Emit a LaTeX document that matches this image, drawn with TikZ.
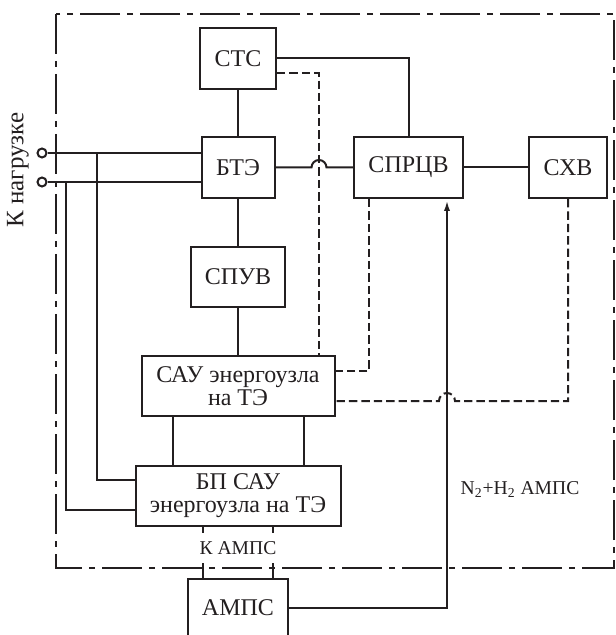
\documentclass[tikz,border=0pt]{standalone}
\usepackage{fontspec}
\setmainfont{Liberation Serif}
\definecolor{ink}{HTML}{231F20}
\usetikzlibrary{arrows.meta,calc}

\tikzset{
  blk/.style={draw=ink,line width=1pt,inner sep=0pt,align=center,text=ink,
    font=\fontsize{12}{11.5}\selectfont},
  wire/.style={draw=ink,line width=1pt},
  sig/.style={draw=ink,line width=1pt,dash pattern=on 4.2pt off 2pt},
  frame/.style={draw=ink,line width=1pt,dash pattern=on 20pt off 3.5pt on 3pt off 3.5pt},
  term/.style={circle,draw=ink,line width=1pt,fill=white,inner sep=0pt,minimum size=4.5pt},
  lbl/.style={text=ink,inner sep=0pt,font=\fontsize{9.8}{10}\selectfont},
}

\begin{document}
\begin{tikzpicture}[x=0.5pt,y=-0.5pt]
  \useasboundingbox (0,0) rectangle (615,635);
  % power unit boundary
  \draw[frame] (56,14) rectangle (614,568);
  % blocks
  \node[blk,minimum width=38pt,minimum height=30.5pt] (stc) at (238,58.5) {СТС};
  \node[blk,minimum width=36.5pt,minimum height=30.5pt] (bte) at (238,167.5) {БТЭ};
  \node[blk,minimum width=54.5pt,minimum height=30.5pt] (spr) at (408.5,167.5) {СПРЦВ};
  \node[blk,minimum width=39pt,minimum height=30.5pt] (shv) at (568,167.5) {СХВ};
  \node[blk,minimum width=47pt,minimum height=30pt] (spuv) at (238,277) {СПУВ};
  \node[blk,minimum width=96.5pt,minimum height=30pt] (sau) at (238,386) {САУ энергоузла\\на ТЭ};
  \node[blk,minimum width=102.5pt,minimum height=30pt] (bp) at (238,496) {БП САУ\\энергоузла на ТЭ};
  \node[blk,minimum width=50pt,minimum height=29pt] (amps) at (238,608) {АМПС};
  % load terminals
  \node[term] (t1) at (42,153) {};
  \node[term] (t2) at (42,182) {};
  \node[text=ink,inner sep=0pt,rotate=90,font=\fontsize{12.5}{12.5}\selectfont] (load) at (18,170) {К нагрузке};
  \coordinate (j1) at (97,153);
  \coordinate (j2) at (66,182);
  \draw[wire] (t1) -- (t1 -| bte.west);
  \draw[wire] (t2) -- (t2 -| bte.west);
  \draw[wire] (j1) |- (bp.west |- 0,480);
  \draw[wire] (j2) |- (bp.west |- 0,510);
  % power lines
  \draw[wire] (stc) -- (bte);
  \draw[wire] (bte) -- (spuv);
  \draw[wire] (spuv) -- (sau);
  \draw[wire] (spr) -- (shv);
  \draw[wire] (stc.east) -| (spr.north);
  \draw[wire] (bte.east) -- (bte.east -| 311.5,0) arc[start angle=180,end angle=360,radius=7.5] -- (spr.west);
  \draw[wire] (sau.south -| 173,0) -- (bp.north -| 173,0);
  \draw[wire] (sau.south -| 304,0) -- (bp.north -| 304,0);
  % control signals
  \draw[sig] (stc.east |- 0,73) -| (sau.north -| 319,0);
  \draw[sig] (spr.south -| 369,0) |- (sau.east |- 0,371);
  \draw[sig] (shv.south) |- (455,401) arc[start angle=0,end angle=-180,radius=8] -- (sau.east |- 0,401);
  % supply of the AMPS
  \draw[wire] (bp.south -| 203,0) -- (amps.north -| 203,0);
  \draw[wire] (bp.south -| 273,0) -- (amps.north -| 273,0);
  \node[lbl,fill=white,inner xsep=2pt,inner ysep=4pt] (kamps) at (238,548) {К АМПС};
  % gas from the AMPS
  \draw[wire,line width=1.2pt,-{Latex[length=6pt,width=3pt]}] (amps.east) -| (spr.south -| 447,0);
  \node[lbl] (gas) at (520,490) {N\textsubscript{2}+H\textsubscript{2} АМПС};
\end{tikzpicture}
\end{document}
